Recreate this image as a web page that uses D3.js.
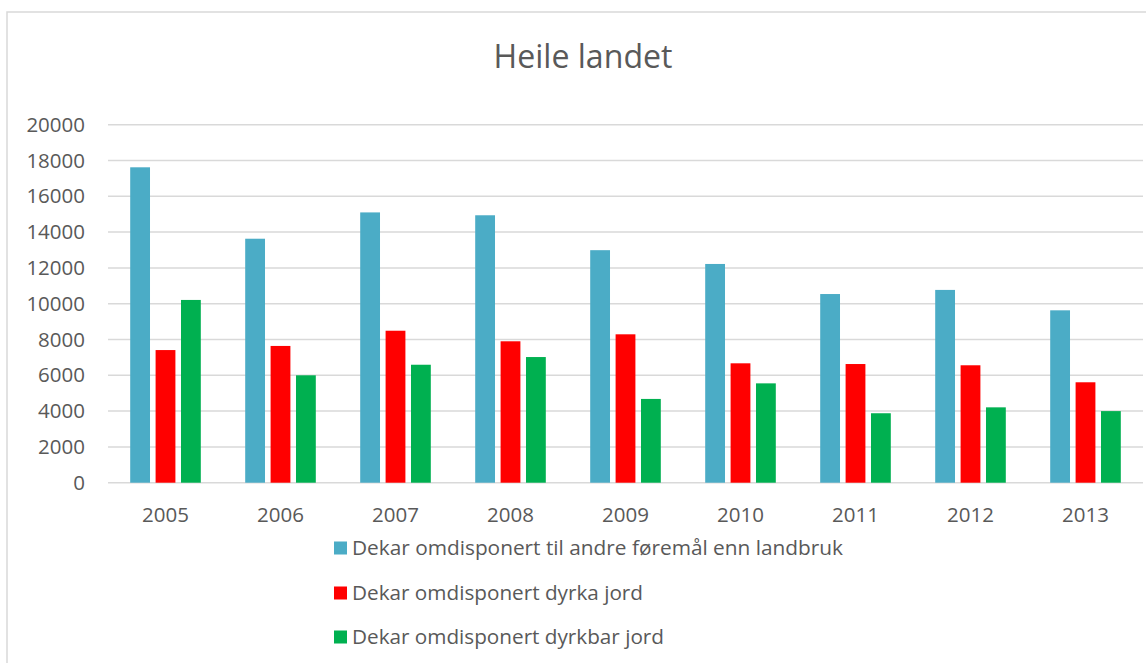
<!DOCTYPE html>
<html>
<head>
<meta charset="utf-8">
<script src="https://cdn.jsdelivr.net/npm/d3@7"></script>
<style>
  body { margin: 0; background: #fff; }
  svg text { font-family: "Open Sans", sans-serif; fill: #595959; }
</style>
</head>
<body>
<div id="chart-area"></div>
<script>
const years = ['2005', '2006', '2007', '2008', '2009', '2010', '2011', '2012', '2013'];
const seriesNames = [
  'Dekar omdisponert til andre føremål enn landbruk',
  'Dekar omdisponert dyrka jord',
  'Dekar omdisponert dyrkbar jord'
];
const andreFormal = [17620, 13630, 15100, 14940, 12990, 12220, 10540, 10770, 9630];
const dyrkaJord = [7410, 7640, 8490, 7900, 8290, 6670, 6630, 6560, 5610];
const dyrkbarJord = [10210, 6000, 6590, 7020, 4680, 5550, 3880, 4210, 4000];
const yTicks = [0, 2000, 4000, 6000, 8000, 10000, 12000, 14000, 16000, 18000, 20000];
const colors = ['#4BACC6', '#FF0000', '#00B050'];
const legendWidths = [491, 291, 312];

const seriesValues = [andreFormal, dyrkaJord, dyrkbarJord];

const svg = d3.select('#chart-area').append('svg')
  .attr('width', 1146)
  .attr('height', 663);

// chart frame
svg.append('rect')
  .attr('x', 7)
  .attr('y', 12)
  .attr('width', 1160)
  .attr('height', 700)
  .attr('fill', 'none')
  .attr('stroke', '#D9D9D9')
  .attr('stroke-width', 1.5);

svg.append('text')
  .attr('x', 583)
  .attr('y', 68)
  .attr('text-anchor', 'middle')
  .attr('font-size', '32px')
  .attr('textLength', 179)
  .attr('lengthAdjust', 'spacingAndGlyphs')
  .text('Heile landet');

const y = d3.scaleLinear().domain([0, 20000]).range([482.7, 124.7]);
const x = d3.scaleBand().domain(years).range([108, 1143]);
const xInner = d3.scaleBand().domain([0, 1, 2]).range([0, 70.6]).paddingInner(0.22);

// gridlines
svg.append('g')
  .selectAll('line')
  .data(yTicks)
  .enter()
  .append('line')
  .attr('x1', 108)
  .attr('x2', 1143)
  .attr('y1', d => y(d))
  .attr('y2', d => y(d))
  .attr('stroke', '#D9D9D9')
  .attr('stroke-width', 1.5);

// y labels
svg.append('g')
  .selectAll('text')
  .data(yTicks)
  .enter()
  .append('text')
  .attr('x', 85)
  .attr('y', d => y(d) + 7)
  .attr('text-anchor', 'end')
  .attr('font-size', '20.5px')
  .text(d => d);

// bars
seriesValues.forEach((values, s) => {
  svg.append('g')
    .selectAll('rect')
    .data(values)
    .enter()
    .append('rect')
    .attr('x', (v, i) => x(years[i]) + x.bandwidth() / 2 - 35.3 + xInner(s))
    .attr('y', v => y(v))
    .attr('width', xInner.bandwidth())
    .attr('height', v => y(0) - y(v))
    .attr('fill', colors[s]);
});

// x labels
svg.append('g')
  .selectAll('text')
  .data(years)
  .enter()
  .append('text')
  .attr('x', d => x(d) + x.bandwidth() / 2)
  .attr('y', 522)
  .attr('text-anchor', 'middle')
  .attr('font-size', '20.5px')
  .text(d => d);

// legend
const legendY = [548, 593, 637];
const legend = svg.append('g')
  .selectAll('g')
  .data(seriesNames)
  .enter()
  .append('g')
  .attr('transform', (d, i) => `translate(334, ${legendY[i]})`);

legend.append('rect')
  .attr('x', 0)
  .attr('y', -6.5)
  .attr('width', 13)
  .attr('height', 13)
  .attr('fill', (d, i) => colors[i]);

legend.append('text')
  .attr('x', 18)
  .attr('y', 7)
  .attr('font-size', '20px')
  .attr('textLength', (d, i) => legendWidths[i])
  .attr('lengthAdjust', 'spacingAndGlyphs')
  .text(d => d);
</script>
</body>
</html>
